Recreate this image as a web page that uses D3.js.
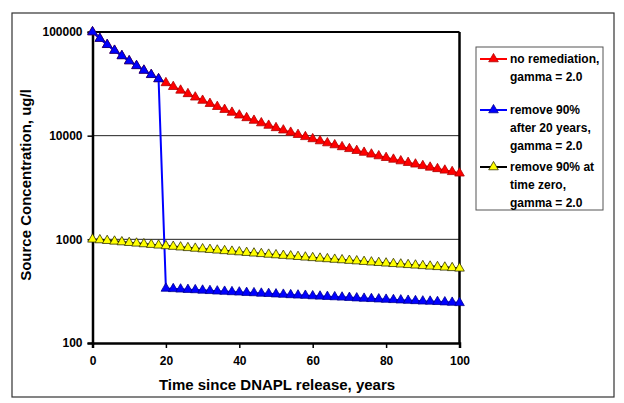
<!DOCTYPE html>
<html><head><meta charset="utf-8">
<script src="https://cdn.jsdelivr.net/npm/d3@7/dist/d3.min.js"></script>
<style>body{margin:0;background:#fff}svg{display:block}text{font-family:Arial,"Liberation Sans",sans-serif;font-weight:bold;fill:#000}</style>
</head><body><svg id="c" width="624" height="403"></svg>
<script>
const years = [0,2,4,6,8,10,12,14,16,18,20,22,24,26,28,30,32,34,36,38,40,42,44,46,48,50,52,54,56,58,60,62,64,66,68,70,72,74,76,78,80,82,84,86,88,90,92,94,96,98,100];
const noRemediation = [100000,86372,75352,66314,58809,52510,47171,42607,38675,35263,32283,29666,27354,25303,23474,21836,20364,19036,17833,16742,15747,14839,14006,13242,12539,11891,11291,10736,10220,9741,9295,8879,8490,8126,7785,7465,7165,6882,6615,6364,6127,5903,5691,5490,5299,5119,4947,4784,4629,4481,4340];
const remove20Years = [0,2,4,6,8,10,12,14,16,18,20,22,24,26,28,30,32,34,36,38,40,42,44,46,48,50,52,54,56,58,60,62,64,66,68,70,72,74,76,78,80,82,84,86,88,90,92,94,96,98,100];
const remove20 = [100000,86372,75352,66314,58809,52510,47171,42607,38675,35263,336,333,330,327,325,322,319,316,314,311,309,306,304,301,299,296,294,291,289,287,284,282,280,278,276,274,271,269,267,265,263,261,259,257,255,253,252,250,248,246,244];
const removeZero = [1000,985,970,956,942,928,915,902,889,876,864,852,840,828,817,806,795,784,774,764,754,744,734,725,715,706,697,689,680,671,663,655,647,639,632,624,617,609,602,595,588,581,575,568,562,555,549,543,537,531,525];
const xTicks = [0,20,40,60,80,100];
const yTicks = [100,1000,10000,100000];
const legendLabels = [["no remediation,","gamma = 2.0"],["remove 90%","after 20 years,","gamma = 2.0"],["remove 90% at","time zero,","gamma = 2.0"]];

const svg = d3.select("#c");
const x = d3.scaleLinear().domain([0,100]).range([92.5,459.5]);
const y = d3.scaleLog().domain([100,100000]).range([343,32]);

svg.append("rect").attr("x",12).attr("y",13).attr("width",602).attr("height",384).attr("fill","none").attr("stroke","#333").attr("stroke-width",1.2);

svg.append("g").selectAll("line").data([1000,10000]).join("line")
  .attr("x1",x(0)).attr("x2",x(100)).attr("y1",d=>y(d)).attr("y2",d=>y(d))
  .attr("stroke","#222").attr("stroke-width",1);

svg.append("line").attr("x1",x(0)).attr("x2",x(100)).attr("y1",y(100000)).attr("y2",y(100000)).attr("stroke","#000").attr("stroke-width",2);
svg.append("line").attr("x1",x(100)).attr("x2",x(100)).attr("y1",y(100000)).attr("y2",y(100)).attr("stroke","#000").attr("stroke-width",2.5);

const xAxis = svg.append("g").attr("transform",`translate(0,${y(100)})`)
  .call(d3.axisBottom(x).tickValues(xTicks).tickSize(5).tickPadding(8).tickFormat(d3.format("d")));
const yAxis = svg.append("g").attr("transform",`translate(${x(0)},0)`)
  .call(d3.axisLeft(y).tickValues(yTicks).tickSize(5).tickPadding(5).tickFormat(d3.format("d")));
[xAxis,yAxis].forEach(a=>{
  a.select(".domain").attr("stroke","#000").attr("stroke-width",2.5);
  a.selectAll(".tick line").attr("stroke","#000").attr("stroke-width",1.5);
  a.selectAll(".tick text").style("font-size","12px").style("font-weight","bold").attr("fill","#000");
});

svg.append("text").attr("x",277).attr("y",390).attr("text-anchor","middle").style("font-size","15px").text("Time since DNAPL release, years");
svg.append("text").attr("transform","translate(31,185) rotate(-90)").attr("text-anchor","middle").style("font-size","15px").text("Source Concentration, ug/l");

const series = [
  {xs:years, vals:noRemediation, line:"#ff0000", fill:"#ff0000", stroke:"#b00000"},
  {xs:remove20Years, vals:remove20, line:"#0000ff", fill:"#0000ff", stroke:"#000090"},
  {xs:years, vals:removeZero, line:"#000000", fill:"#ffff00", stroke:"#333300"}
];
const tri = d3.symbol().type(d3.symbolTriangle).size(40);
const lineGen = d3.line().x(d=>x(d[0])).y(d=>y(d[1]));
series.forEach(s=>{
  const pts = s.xs.map((t,i)=>[t,s.vals[i]]);
  const g = svg.append("g");
  g.append("path").attr("d",lineGen(pts)).attr("fill","none").attr("stroke",s.line).attr("stroke-width",2);
  g.selectAll("path.m").data(pts).join("path").attr("class","m")
    .attr("d",tri).attr("transform",d=>`translate(${x(d[0])},${y(d[1])})`)
    .attr("fill",s.fill).attr("stroke",s.stroke).attr("stroke-width",0.8);
});

const lg = svg.append("g");
lg.append("rect").attr("x",476).attr("y",47).attr("width",127).attr("height",163).attr("fill","#fff").attr("stroke","#555").attr("stroke-width",1);
const legY = [59,110,167];
series.forEach((s,i)=>{
  const yy = legY[i];
  lg.append("line").attr("x1",480).attr("x2",507).attr("y1",yy).attr("y2",yy).attr("stroke",s.line).attr("stroke-width",2);
  lg.append("path").attr("d",tri).attr("transform",`translate(493.5,${yy})`).attr("fill",s.fill).attr("stroke",s.stroke).attr("stroke-width",0.8);
  legendLabels[i].forEach((t,j)=>{
    lg.append("text").attr("x",510).attr("y",yy+4+j*18).style("font-size","12px").text(t);
  });
});
</script></body></html>
